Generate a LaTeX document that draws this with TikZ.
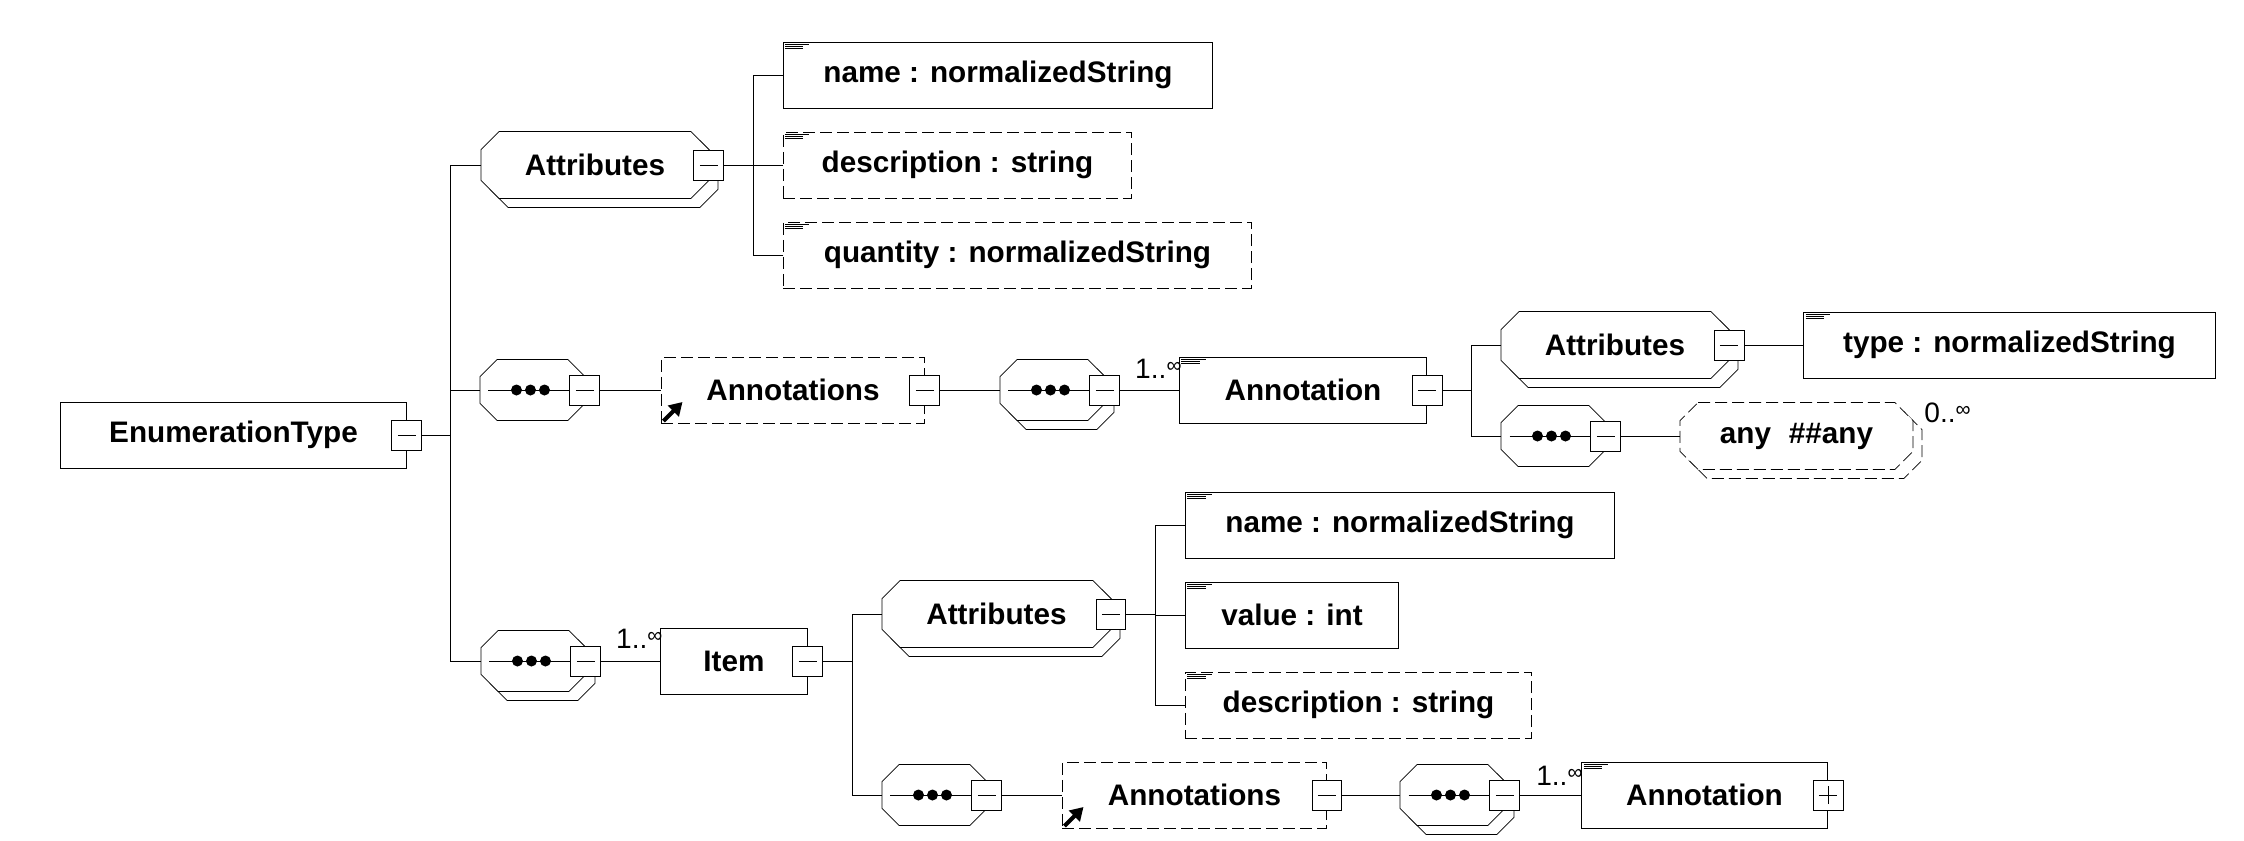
\documentclass[tikz,border=0pt]{standalone}
\usepackage{fontspec}
\setmainfont{Liberation Sans}
\usetikzlibrary{arrows.meta,backgrounds}
\newcommand\infmark{\raisebox{3pt}{\fontsize{12}{12}\selectfont ∞}}

\begin{document}
\begin{tikzpicture}[
  x=0.02cm, y=-0.02cm,
  line width=0.55pt,
  font=\fontsize{16.9}{20}\selectfont\bfseries,
  elem/.style={draw, fill=white, anchor=west, inner sep=0pt, minimum height=1.32cm, minimum width=#1*0.02cm},
  optelem/.style={elem=#1, dash pattern=on 0.24cm off 0.1cm},
  doc/.style={path picture={
    \draw[solid, line width=0.4pt] ([shift={(2,2.5)}]path picture bounding box.north west) -- ++(24,0);
    \draw[solid, line width=0.4pt] ([shift={(2,4.5)}]path picture bounding box.north west) -- ++(18,0);
    \draw[solid, line width=0.4pt] ([shift={(2,6.5)}]path picture bounding box.north west) -- ++(18,0);}},
  refarrow/.style={path picture={
    \draw[solid, line width=0.08cm, -{Triangle[length=0.26cm,width=0.3cm]}] ([shift={(2,-2)}]path picture bounding box.south west) -- ++(19,-19);}},
  grp/.style={anchor=west, inner sep=0pt, minimum height=1.32cm, minimum width=#1*0.02cm},
  seqgrp/.style={anchor=west, inner sep=0pt, minimum height=1.2cm, minimum width=2.08cm,
    path picture={
      \draw ([xshift=0.16cm]path picture bounding box.west) -- (path picture bounding box.east);
      \foreach \dx in {-16,-2,12}
        \fill[black] ([shift={(\dx,0)}]path picture bounding box.center) circle[radius=0.11cm];}},
  octo/.style 2 args={insert path={([xshift=#2]#1.north west) -- ([xshift=-#2]#1.north east)
    -- ([yshift=-#2]#1.north east) -- ([yshift=#2]#1.south east) -- ([xshift=-#2]#1.south east)
    -- ([xshift=#2]#1.south west) -- ([yshift=#2]#1.south west) -- ([yshift=-#2]#1.north west) -- cycle}},
  shad/.style={transform canvas={xshift=0.18cm, yshift=-0.18cm}},
  minus/.style={draw, fill=white, solid, minimum size=0.6cm, inner sep=0pt,
    path picture={\draw ([xshift=0.12cm]path picture bounding box.west) -- ([xshift=-0.12cm]path picture bounding box.east);}},
  plus/.style={draw, fill=white, solid, minimum size=0.6cm, inner sep=0pt,
    path picture={\draw ([xshift=0.12cm]path picture bounding box.west) -- ([xshift=-0.12cm]path picture bounding box.east);
      \draw ([yshift=0.12cm]path picture bounding box.south) -- ([yshift=-0.12cm]path picture bounding box.north);}},
  mult/.style={font=\fontsize{16}{18}\selectfont\mdseries, inner sep=0pt},
]
\useasboundingbox (0,0) rectangle (2244,840);

\node[elem=346] (enum) at (60,435) {EnumerationType};
\node[minus] (enumM) at (enum.east) {};
\coordinate (jEnum) at (450,435);

\node[grp=227] (attrA) at (481,165) {Attributes};
\node[minus] (attrAM) at (attrA.east) {};
\coordinate (jAttrA) at (753,165);
\node[elem=429, doc] (nameA) at (783,75) {name : normalizedString};
\node[optelem=348, doc] (descA) at (783,165) {description : string};
\node[optelem=468, doc] (qtyA) at (783,255) {quantity : normalizedString};

\node[seqgrp] (seqA) at (480,390) {};
\node[minus] (seqAM) at (seqA.east) {};
\node[optelem=263, refarrow] (annsA) at (661,390) {Annotations};
\node[minus] (annsAM) at (annsA.east) {};
\node[seqgrp] (seqB) at (1000,390) {};
\node[minus] (seqBM) at (seqB.east) {};
\node[elem=247, doc] (annB) at (1179,390) {Annotation};
\node[minus] (annBM) at (annB.east) {};
\node[mult, anchor=base east] (multB) at ([shift={(3,-12)}]annB.west) {1..\infmark};
\coordinate (jAnnB) at (1471,390);
\node[grp=227] (attrB) at (1501,345) {Attributes};
\node[minus] (attrBM) at (attrB.east) {};
\node[elem=412, doc] (typeB) at (1803,345) {type : normalizedString};
\node[seqgrp] (seqC) at (1501,436) {};
\node[minus] (seqCM) at (seqC.east) {};
\node[grp=232] (anyB) at (1680,436) {any\hspace{0.6em}\#\#any};
\node[mult, anchor=base west] (multAny) at ([shift={(11,-14)}]anyB.east) {0..\infmark};

\node[seqgrp] (seqD) at (481,661) {};
\node[minus] (seqDM) at (seqD.east) {};
\node[elem=147] (item) at (660,661) {Item};
\node[minus] (itemM) at (item.east) {};
\node[mult, anchor=base east] (multD) at ([shift={(3,-13)}]item.west) {1..\infmark};
\coordinate (jItem) at (852,661);
\node[grp=228] (attrC) at (882,614) {Attributes};
\node[minus] (attrCM) at (attrC.east) {};
\coordinate (jAttrC) at (1155,614);
\node[elem=429, doc] (nameC) at (1185,525) {name : normalizedString};
\node[elem=213, doc] (valueC) at (1185,615) {value : int};
\node[optelem=346, doc] (descC) at (1185,705) {description : string};
\node[seqgrp] (seqE) at (882,795) {};
\node[minus] (seqEM) at (seqE.east) {};
\node[optelem=264, refarrow] (annsC) at (1062,795) {Annotations};
\node[minus] (annsCM) at (annsC.east) {};
\node[seqgrp] (seqF) at (1400,795) {};
\node[minus] (seqFM) at (seqF.east) {};
\node[elem=246, doc] (annC) at (1581,795) {Annotation};
\node[plus] (annCP) at (annC.east) {};
\node[mult, anchor=base east] (multF) at ([shift={(2,-10)}]annC.west) {1..\infmark};

\begin{scope}[on background layer]
\foreach \n/\c in {attrA/0.36cm, seqB/0.34cm, attrB/0.36cm, seqD/0.34cm, attrC/0.36cm, seqF/0.34cm}
  \draw[fill=white, shad, octo={\n}{\c}];
\draw[fill=white, shad, dash pattern=on 0.24cm off 0.1cm, octo={anyB}{0.36cm}];
\foreach \n/\c in {attrA/0.36cm, seqA/0.34cm, seqB/0.34cm, attrB/0.36cm, seqC/0.34cm,
    seqD/0.34cm, attrC/0.36cm, seqE/0.34cm, seqF/0.34cm}
  \draw[fill=white, octo={\n}{\c}];
\draw[fill=white, dash pattern=on 0.24cm off 0.1cm, octo={anyB}{0.36cm}];
\end{scope}

\draw (enumM.east) -- (jEnum);
\foreach \n in {attrA,seqA,seqD} \draw (\n.west) -| (jEnum);
\draw (attrAM.east) -- (jAttrA);
\foreach \n in {nameA,descA,qtyA} \draw (\n.west) -| (jAttrA);
\draw (seqAM.east) -- (annsA.west);
\draw (annsAM.east) -- (seqB.west);
\draw (seqBM.east) -- (annB.west);
\draw (annBM.east) -- (jAnnB);
\foreach \n in {attrB,seqC} \draw (\n.west) -| (jAnnB);
\draw (attrBM.east) -- (typeB.west);
\draw (seqCM.east) -- (anyB.west);
\draw (seqDM.east) -- (item.west);
\draw (itemM.east) -- (jItem);
\foreach \n in {attrC,seqE} \draw (\n.west) -| (jItem);
\draw (attrCM.east) -- (jAttrC);
\foreach \n in {nameC,valueC,descC} \draw (\n.west) -| (jAttrC);
\draw (seqEM.east) -- (annsC.west);
\draw (annsCM.east) -- (seqF.west);
\draw (seqFM.east) -- (annC.west);
\end{tikzpicture}
\end{document}
